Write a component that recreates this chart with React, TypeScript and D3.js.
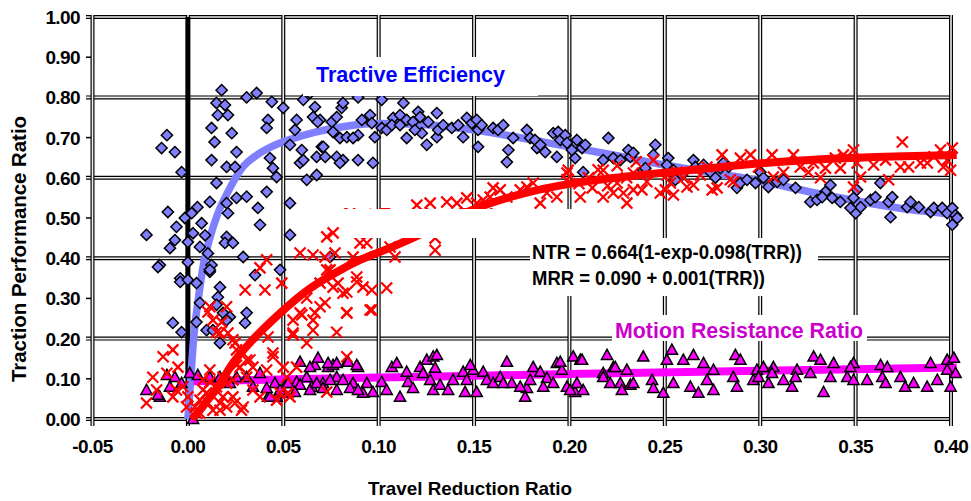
import React from "react";
import * as d3 from "d3";

const W = 971;
const H = 501;

const xTicks = [-0.05, 0, 0.05, 0.1, 0.15, 0.2, 0.25, 0.3, 0.35, 0.4];
const yTicks = [0, 0.1, 0.2, 0.3, 0.4, 0.5, 0.6, 0.7, 0.8, 0.9, 1.0];
const yGrid = [0, 0.2, 0.4, 0.6, 0.8, 1.0];

// Tractive efficiency (diamonds)
const efficiencyPts: [number, number][] = [
  [-0.011, 0.706], [-0.0138, 0.674], [-0.0068, 0.664], [-0.0033, 0.614], [-0.0105, 0.515], [-0.0217, 0.458],
  [-0.0147, 0.383], [-0.006, 0.478], [-0.0068, 0.445], [-0.0094, 0.425], [-0.0016, 0.5], [0.002, 0.512],
  [0.005, 0.527], [0.0027, 0.462], [0.0, 0.44], [0.0072, 0.487], [0.009, 0.457], [0.0063, 0.428],
  [0.0105, 0.412], [0.0, 0.39], [0.0124, 0.383], [0.0115, 0.366], [-0.004, 0.35], [0.0115, 0.54],
  [0.015, 0.587], [0.0124, 0.644], [0.014, 0.689], [0.0124, 0.724], [0.0157, 0.756], [0.015, 0.786],
  [0.0177, 0.818], [0.0194, 0.781], [0.021, 0.756], [0.023, 0.711], [0.0203, 0.627], [0.0255, 0.664],
  [0.0247, 0.627], [0.0203, 0.537], [0.0255, 0.55], [0.0308, 0.553], [0.021, 0.512], [0.0203, 0.453],
  [0.0194, 0.438], [0.0236, 0.438], [0.029, 0.403], [0.0367, 0.525], [0.0378, 0.483], [0.0413, 0.565],
  [0.0535, 0.537], [0.0535, 0.458], [0.043, 0.649], [0.0446, 0.624], [0.0465, 0.602], [0.042, 0.744],
  [0.0413, 0.724], [0.044, 0.789], [0.05, 0.774], [0.0308, 0.8], [0.036, 0.811], [0.0535, 0.682],
  [0.0597, 0.669], [0.0588, 0.637], [0.057, 0.744], [0.0561, 0.719], [0.0605, 0.794], [0.064, 0.811],
  [0.0656, 0.751], [0.0693, 0.744], [0.0623, 0.595], [0.0675, 0.607], [0.0675, 0.652], [0.0702, 0.677],
  [0.072, 0.652],
  [-0.0157, 0.378], [-0.004, 0.341], [0.0, 0.346], [0.0045, 0.338], [0.0115, 0.371], [0.0168, 0.328],
  [0.0157, 0.303], [0.0063, 0.289], [0.015, 0.284], [0.0184, 0.264], [0.022, 0.254], [-0.0079, 0.239],
  [-0.0033, 0.216], [0.0045, 0.241], [0.0098, 0.221], [0.0131, 0.221], [0.0168, 0.189], [0.0203, 0.246],
  [0.0308, 0.264], [0.03, 0.239], [0.0483, 0.371], [0.0352, 0.358], [0.0745, 0.403],
  [0.0666, 0.776], [0.068, 0.739], [0.0605, 0.644], [0.071, 0.677], [0.0754, 0.739], [0.0761, 0.714],
  [0.078, 0.751], [0.0806, 0.774], [0.0813, 0.786], [0.0797, 0.699], [0.0833, 0.701], [0.078, 0.652],
  [0.0813, 0.644], [0.0797, 0.637], [0.0892, 0.644], [0.0892, 0.8], [0.0912, 0.744], [0.0955, 0.756],
  [0.0964, 0.736], [0.0892, 0.706], [0.0866, 0.699], [0.097, 0.637], [0.098, 0.701], [0.1016, 0.794],
  [0.1016, 0.724], [0.1042, 0.719], [0.1076, 0.749], [0.1069, 0.731], [0.113, 0.786], [0.1112, 0.756],
  [0.1112, 0.731], [0.1147, 0.744], [0.1147, 0.699], [0.118, 0.739], [0.1207, 0.764], [0.1217, 0.751],
  [0.1226, 0.711], [0.119, 0.719], [0.1252, 0.682], [0.126, 0.739], [0.1305, 0.761], [0.1305, 0.701],
  [0.1312, 0.719], [0.1338, 0.731], [0.1383, 0.724], [0.1417, 0.731], [0.1462, 0.749], [0.1443, 0.701],
  [0.1488, 0.736], [0.1514, 0.744], [0.1521, 0.719], [0.154, 0.731], [0.1521, 0.677], [0.16, 0.724],
  [0.1626, 0.719], [0.1653, 0.731], [0.168, 0.669], [0.1672, 0.639], [0.1705, 0.699], [0.1777, 0.719],
  [0.1794, 0.699], [0.182, 0.694], [0.183, 0.674], [0.1847, 0.682], [0.1873, 0.664], [0.1915, 0.711],
  [0.1941, 0.714], [0.1934, 0.652], [0.1952, 0.694], [0.1978, 0.706], [0.1987, 0.687], [0.2013, 0.669],
  [0.2039, 0.694], [0.2066, 0.674], [0.2083, 0.682], [0.2072, 0.614], [0.203, 0.649], [0.2204, 0.699],
  [0.2177, 0.644], [0.223, 0.649], [0.2267, 0.644], [0.2309, 0.669], [0.2319, 0.652], [0.2335, 0.662],
  [0.2387, 0.619],
  [0.245, 0.682], [0.244, 0.657], [0.2398, 0.624], [0.2518, 0.649], [0.2511, 0.632], [0.2545, 0.619],
  [0.2555, 0.595], [0.259, 0.607], [0.265, 0.644], [0.266, 0.627], [0.2703, 0.632], [0.2739, 0.614],
  [0.2765, 0.6], [0.2791, 0.624], [0.2807, 0.637], [0.2834, 0.627], [0.2878, 0.575], [0.2896, 0.587],
  [0.2931, 0.595], [0.2975, 0.587], [0.3001, 0.614], [0.3017, 0.6], [0.3043, 0.577], [0.3089, 0.59],
  [0.3122, 0.595], [0.3185, 0.575], [0.3263, 0.54], [0.3298, 0.545], [0.3342, 0.565], [0.3368, 0.582],
  [0.3325, 0.552], [0.3377, 0.55], [0.342, 0.54], [0.3489, 0.55], [0.35, 0.512], [0.3526, 0.527],
  [0.3507, 0.57], [0.3578, 0.545], [0.3604, 0.552], [0.3673, 0.54], [0.3692, 0.552], [0.3683, 0.502],
  [0.377, 0.527], [0.3788, 0.54], [0.3831, 0.527], [0.3893, 0.515], [0.391, 0.525], [0.3954, 0.525],
  [0.398, 0.512], [0.4007, 0.525], [0.4024, 0.507], [0.4007, 0.483], [0.4033, 0.5], [0.3473, 0.525],
  [0.363, 0.587],
];

// Net traction ratio (crosses)
const tractionPts: [number, number][] = [
  [-0.0217, 0.04], [-0.013, 0.155], [-0.0079, 0.172], [-0.0164, 0.072], [-0.011, 0.114], [-0.0052, 0.129],
  [-0.0184, 0.104], [-0.0079, 0.055], [-0.0026, 0.08], [-0.0007, 0.03], [0.0063, 0.047], [0.0098, 0.065],
  [0.0131, 0.022], [0.0168, 0.04], [0.0045, 0.015], [0.015, 0.08], [0.0203, 0.03], [0.0236, 0.055],
  [0.0115, 0.122], [0.0079, 0.097], [0.0184, 0.104], [0.0236, 0.097], [0.0273, 0.129], [0.0308, 0.147],
  [0.029, 0.03], [0.0341, 0.072], [0.0378, 0.055], [0.0446, 0.164], [0.0413, 0.122], [0.05, 0.129],
  [0.0465, 0.047], [0.0535, 0.055], [0.0236, 0.197], [0.0168, 0.214], [0.0131, 0.246], [0.0115, 0.279],
  [0.0203, 0.279], [0.0255, 0.172], [0.0341, 0.129], [0.0308, 0.104], [0.0588, 0.264], [0.0656, 0.246],
  [0.0551, 0.214], [0.0623, 0.189], [0.0518, 0.104], [0.057, 0.129],
  [0.03, 0.321], [0.0404, 0.321], [0.0378, 0.376], [0.0413, 0.396], [0.0492, 0.338], [0.0588, 0.413],
  [0.0656, 0.408], [0.0728, 0.371], [0.0885, 0.341], [0.0833, 0.316], [0.0761, 0.328], [0.0623, 0.301],
  [0.0666, 0.264], [0.0597, 0.259], [0.0551, 0.246], [0.0693, 0.279], [0.0833, 0.264], [0.078, 0.216],
  [0.0656, 0.221], [0.0551, 0.209], [0.042, 0.204], [0.0446, 0.155], [0.0833, 0.155], [0.015, 0.216],
  [0.021, 0.214], [0.0247, 0.189], [0.0177, 0.241], [0.0105, 0.266], [0.0325, 0.147], [0.0255, 0.134],
  [-0.006, 0.072], [0.0, 0.055], [0.0037, 0.03], [0.0079, 0.072], [0.0105, 0.04], [0.0168, 0.022],
  [0.0184, 0.055], [0.0247, 0.04], [0.0203, 0.089], [0.0281, 0.022], [0.0063, 0.015], [0.0115, 0.092],
  [0.0483, 0.065], [0.0525, 0.065], [0.0728, 0.067], [0.0955, 0.271], [0.0918, 0.328],
  [0.0728, 0.453], [0.0761, 0.463], [0.0719, 0.403], [0.0771, 0.413], [0.0745, 0.371], [0.0787, 0.338],
  [0.0813, 0.313], [0.0885, 0.353], [0.0866, 0.403], [0.0902, 0.438], [0.0938, 0.438], [0.0964, 0.321],
  [0.1042, 0.326], [0.0964, 0.271], [0.0833, 0.264], [0.0719, 0.289], [0.0693, 0.338], [0.1086, 0.403],
  [0.1296, 0.42], [0.1296, 0.45], [0.106, 0.428],
  [0.12, 0.532], [0.127, 0.537], [0.1357, 0.54], [0.1462, 0.55], [0.1514, 0.537], [0.16, 0.575],
  [0.1548, 0.545], [0.1672, 0.552], [0.1742, 0.57], [0.181, 0.587], [0.1882, 0.562], [0.1847, 0.537],
  [0.1934, 0.552], [0.1987, 0.595], [0.2057, 0.552], [0.1994, 0.619], [0.2177, 0.552], [0.223, 0.562],
  [0.2335, 0.57], [0.2301, 0.537], [0.1987, 0.612], [0.2177, 0.619], [0.2283, 0.562], [0.2335, 0.612],
  [0.225, 0.587], [0.1777, 0.577], [0.1637, 0.57], [0.1584, 0.552], [0.141, 0.537],
  [0.21, 0.6], [0.215, 0.62], [0.22, 0.58], [0.225, 0.63], [0.23, 0.6], [0.235, 0.64], [0.238, 0.57],
  [0.205, 0.585], [0.212, 0.575],
  [0.2406, 0.59], [0.2503, 0.57], [0.2529, 0.587], [0.2564, 0.614], [0.2597, 0.6], [0.265, 0.582],
  [0.2686, 0.607], [0.2721, 0.627], [0.2774, 0.575], [0.28, 0.657], [0.2859, 0.59], [0.2896, 0.649],
  [0.2949, 0.657], [0.2991, 0.627], [0.3062, 0.657], [0.3069, 0.602], [0.3122, 0.614], [0.3174, 0.657],
  [0.321, 0.627], [0.3253, 0.614], [0.3316, 0.6], [0.3342, 0.624], [0.3394, 0.649], [0.3436, 0.657],
  [0.3489, 0.669], [0.3508, 0.637], [0.3526, 0.602], [0.3489, 0.577], [0.3594, 0.632], [0.3657, 0.644],
  [0.3673, 0.595], [0.3745, 0.689], [0.3778, 0.627], [0.384, 0.637], [0.391, 0.652], [0.3945, 0.669],
  [0.398, 0.644], [0.3998, 0.619], [0.4007, 0.674], [0.396, 0.627], [0.244, 0.644], [0.2476, 0.562],
  [0.2511, 0.607], [0.2545, 0.557], [0.2616, 0.577], [0.2748, 0.57], [0.2843, 0.595], [0.3279, 0.637],
  [0.342, 0.624], [0.3735, 0.627], [0.3876, 0.637],
];

// Motion resistance ratio (triangles)
const resistancePts: [number, number][] = [
  [-0.0217, 0.072], [-0.0147, 0.055], [-0.011, 0.109], [-0.0068, 0.104], [-0.0033, 0.089], [0.001, 0.114],
  [0.0052, 0.109], [0.0027, 0.0], [0.0115, 0.104], [0.0168, 0.104], [0.022, 0.089], [0.0255, 0.104],
  [0.0308, 0.104], [0.0341, 0.08], [0.0378, 0.114], [0.042, 0.055], [0.0465, 0.055], [0.0456, 0.089],
  [0.0518, 0.089], [0.0588, 0.142], [0.057, 0.092], [0.0623, 0.104], [0.0666, 0.134], [0.0682, 0.152],
  [0.0649, 0.08], [0.0708, 0.089], [0.0735, 0.129], [0.0761, 0.134], [0.078, 0.104], [0.0833, 0.142],
  [0.0892, 0.129], [0.0866, 0.089], [0.0938, 0.089], [0.0918, 0.065], [-0.0094, 0.08], [-0.0157, 0.06],
  [0.064, 0.129], [0.0735, 0.139], [0.078, 0.139], [0.084, 0.142], [0.0885, 0.134], [0.0525, 0.089],
  [0.0588, 0.085], [0.064, 0.072], [0.0561, 0.067], [0.05, 0.065], [0.043, 0.055], [0.0413, 0.077],
  [0.0483, 0.072], [0.0675, 0.089], [0.0708, 0.077], [0.0745, 0.097], [0.078, 0.072], [0.0813, 0.097],
  [0.085, 0.077], [0.0892, 0.072], [0.097, 0.067], [0.1016, 0.092], [0.1042, 0.072], [0.1069, 0.129],
  [0.1095, 0.139], [0.1112, 0.055], [0.1147, 0.117], [0.1154, 0.092], [0.118, 0.077], [0.1217, 0.129],
  [0.1233, 0.114], [0.1252, 0.147], [0.1286, 0.155], [0.1305, 0.159], [0.1296, 0.127], [0.127, 0.097],
  [0.1286, 0.072], [0.1322, 0.085], [0.1364, 0.072], [0.139, 0.097], [0.1443, 0.117], [0.1462, 0.097],
  [0.1453, 0.067], [0.1495, 0.122], [0.1514, 0.067], [0.1548, 0.117], [0.1567, 0.097], [0.16, 0.089],
  [0.1637, 0.104], [0.1672, 0.142], [0.1698, 0.089], [0.1768, 0.055], [0.1777, 0.077], [0.181, 0.129],
  [0.1847, 0.117], [0.1882, 0.102], [0.1915, 0.089], [0.1934, 0.139], [0.196, 0.122], [0.1987, 0.08],
  [0.202, 0.155], [0.2057, 0.147], [0.203, 0.067], [0.2072, 0.072], [0.2177, 0.114], [0.2197, 0.159],
  [0.223, 0.129], [0.2267, 0.089], [0.2301, 0.122], [0.2319, 0.085], [0.148, 0.134],
  [0.1952, 0.142], [0.2066, 0.147], [0.224, 0.129], [0.2387, 0.155], [0.2511, 0.147], [0.2537, 0.172],
  [0.2597, 0.147], [0.265, 0.159], [0.2703, 0.139], [0.2755, 0.122], [0.287, 0.159], [0.2896, 0.147],
  [0.2983, 0.122], [0.3017, 0.129], [0.3069, 0.129], [0.3193, 0.122], [0.328, 0.155], [0.3316, 0.147],
  [0.3385, 0.139], [0.3489, 0.139], [0.3631, 0.134], [0.3666, 0.129], [0.3893, 0.139], [0.398, 0.147],
  [0.4015, 0.152],
  [0.1653, 0.089], [0.1742, 0.08], [0.1794, 0.097], [0.1863, 0.08], [0.2004, 0.072], [0.2039, 0.089],
  [0.2177, 0.104], [0.2214, 0.089], [0.2275, 0.072], [0.2335, 0.089], [0.2433, 0.097], [0.244, 0.077],
  [0.2492, 0.065], [0.2545, 0.089], [0.2634, 0.08], [0.2676, 0.065], [0.2721, 0.097], [0.2755, 0.072],
  [0.2859, 0.104], [0.2878, 0.08], [0.2964, 0.097], [0.2991, 0.104], [0.3043, 0.089], [0.3062, 0.114],
  [0.3122, 0.097], [0.3167, 0.08], [0.3185, 0.104], [0.3263, 0.114], [0.3332, 0.067], [0.3368, 0.104],
  [0.3456, 0.104], [0.3473, 0.129], [0.3489, 0.097], [0.356, 0.097], [0.364, 0.104], [0.3657, 0.089],
  [0.3735, 0.104], [0.376, 0.08], [0.3804, 0.089], [0.3875, 0.08], [0.3928, 0.097], [0.398, 0.122],
  [0.3998, 0.08], [0.4024, 0.114],
];

// fitted trend lines
const efficiencyFit: [number, number][] = [
  [0.0, 0.0], [0.0015, 0.1], [0.003, 0.2], [0.0055, 0.3], [0.008, 0.38], [0.0115, 0.45], [0.0156, 0.51],
  [0.021, 0.565], [0.028, 0.622], [0.036, 0.656], [0.045, 0.68], [0.06, 0.705], [0.075, 0.722],
  [0.1, 0.735], [0.125, 0.732], [0.15, 0.719], [0.175, 0.699], [0.2, 0.677], [0.225, 0.655],
  [0.25, 0.632], [0.275, 0.612], [0.3, 0.592], [0.325, 0.566], [0.35, 0.543], [0.375, 0.523],
  [0.4, 0.508], [0.403, 0.505],
];
const tractionFit: [number, number][] = [
  [0.002, 0.0], [0.006, 0.02], [0.01, 0.045], [0.015, 0.075], [0.0236, 0.139], [0.034, 0.197],
  [0.048, 0.262], [0.062, 0.318], [0.076, 0.36], [0.09, 0.395], [0.104, 0.422], [0.12, 0.455],
  [0.135, 0.49], [0.15, 0.522], [0.175, 0.56], [0.2, 0.585], [0.22, 0.598], [0.24, 0.608],
  [0.265, 0.62], [0.29, 0.632], [0.315, 0.641], [0.34, 0.648], [0.37, 0.653], [0.403, 0.657],
];
const resistanceFit: [number, number][] = [
  [0.003, 0.094], [0.1, 0.103], [0.2, 0.112], [0.3, 0.12], [0.403, 0.128],
];

const x = d3.scaleLinear().domain([-0.05, 0.4]).range([92.5, 951]);
const y = d3.scaleLinear().domain([0, 1]).range([419, 17]);

const fitLine = d3
  .line<[number, number]>()
  .x((d) => x(d[0]))
  .y((d) => y(d[1]))
  .curve(d3.curveMonotoneX);

const FONT = "'Liberation Sans', Arial, sans-serif";
const DIAMOND = "M0,-5.6L5.6,0L0,5.6L-5.6,0Z";
const TRIANGLE = "M0,-5.8L5.6,4.4L-5.6,4.4Z";
const CROSS = "M-5.5,-5.5L5.5,5.5M5.5,-5.5L-5.5,5.5";

export default function App() {
  const x0 = x(-0.05);
  const x1 = x(0.4);
  return (
    <div style={{ position: "absolute", left: 0, top: 0, width: W, height: H, background: "#fff" }}>
      <svg width={W} height={H} style={{ display: "block" }} fontFamily={FONT}>
        <rect width={W} height={H} fill="#fff" />

        {/* grid, drawn as doubled lines */}
        <g>
          {yTicks.map((t) => (
            <line key={"yt" + t} x1={86} x2={x0} y1={y(t)} y2={y(t)} stroke="#000" strokeWidth={1.5} />
          ))}
          {yGrid.map((t) => (
            <g key={"yg" + t}>
              <line x1={86} x2={x1 + 2} y1={y(t)} y2={y(t)} stroke="#000" strokeWidth={4} />
              <line x1={86} x2={x1 + 2} y1={y(t)} y2={y(t)} stroke="#eee" strokeWidth={1.6} />
            </g>
          ))}
          {xTicks.map((t) => (
            <g key={"xg" + t}>
              <line x1={x(t)} x2={x(t)} y1={y(1) - 2} y2={426} stroke="#000" strokeWidth={4} />
              <line x1={x(t)} x2={x(t)} y1={y(1) - 2} y2={426} stroke="#eee" strokeWidth={1.6} />
            </g>
          ))}
          <line x1={x(0)} x2={x(0)} y1={y(1)} y2={y(0)} stroke="#000" strokeWidth={5} />
        </g>

        <path d={fitLine(efficiencyFit) || ""} fill="none" stroke="#8080ff" strokeWidth={7.5} />
        <path d={fitLine(resistanceFit) || ""} fill="none" stroke="#ff00ff" strokeWidth={8} />

        <g>
          {efficiencyPts.map((d, i) => (
            <path key={"e" + i} d={DIAMOND} transform={`translate(${x(d[0])},${y(d[1])})`}
              fill="#8080ff" stroke="#000" strokeWidth={1.5} />
          ))}
        </g>
        <g>
          {resistancePts.map((d, i) => (
            <path key={"r" + i} d={TRIANGLE} transform={`translate(${x(d[0])},${y(d[1])})`}
              fill="#ff00ff" stroke="#000" strokeWidth={1.5} />
          ))}
        </g>
        <g>
          {tractionPts.map((d, i) => (
            <path key={"t" + i} d={CROSS} transform={`translate(${x(d[0])},${y(d[1])})`}
              fill="none" stroke="#ff0000" strokeWidth={2.2} />
          ))}
        </g>
        <path d={fitLine(tractionFit) || ""} fill="none" stroke="#ff0000" strokeWidth={8} />

        {/* label boxes */}
        <rect x={303} y={57} width={235} height={39} fill="#fff" />
        <text x={316} y={82} fontSize={22} fontWeight="bold" fill="#0000ff" textLength={189} lengthAdjust="spacingAndGlyphs">
          Tractive Efficiency
        </text>

        <text x={343} y={221} fontSize={19} fontWeight="bold" fill="#ff0000">Net Traction Ratio</text>
        <rect x={340} y={209} width={315} height={29} fill="#fff" />

        <rect x={530} y={238} width={288} height={58} fill="#fff" />
        <text x={532} y={259} fontSize={19.5} fontWeight="bold" fill="#000" textLength={270} lengthAdjust="spacingAndGlyphs">
          NTR = 0.664(1-exp-0.098(TRR))
        </text>
        <text x={532} y={285} fontSize={19.5} fontWeight="bold" fill="#000" textLength={233} lengthAdjust="spacingAndGlyphs">
          MRR = 0.090 + 0.001(TRR))
        </text>

        <rect x={612} y={315} width={255} height={26} fill="#fff" />
        <text x={615} y={338} fontSize={22} fontWeight="bold" fill="#cc00cc" textLength={248} lengthAdjust="spacingAndGlyphs">
          Motion Resistance Ratio
        </text>

        {/* tick labels */}
        <g fontSize={19} fontWeight="bold" fill="#000">
          {yTicks.map((t) => (
            <text key={"yl" + t} x={80} y={y(t) + 7} textAnchor="end" letterSpacing={-0.6}>
              {t.toFixed(2)}
            </text>
          ))}
          {xTicks.map((t) => (
            <text key={"xl" + t} x={x(t)} y={453} textAnchor="middle" letterSpacing={-0.6}>
              {t.toFixed(2)}
            </text>
          ))}
        </g>

        <text x={368} y={495} fontSize={19} fontWeight="bold" textLength={204} lengthAdjust="spacingAndGlyphs">
          Travel Reduction Ratio
        </text>
        <text transform="translate(26,382) rotate(-90)" fontSize={19.5} fontWeight="bold" textLength={266} lengthAdjust="spacingAndGlyphs">
          Traction Performance Ratio
        </text>
      </svg>
    </div>
  );
}
